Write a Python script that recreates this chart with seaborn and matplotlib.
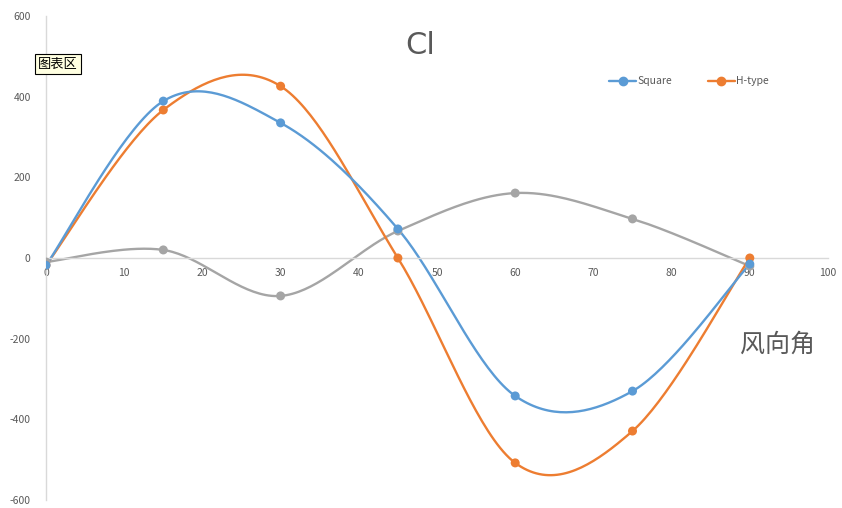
import numpy as np
import pandas as pd
import matplotlib
matplotlib.use("Agg")
import matplotlib.pyplot as plt
from matplotlib.lines import Line2D
import seaborn as sns

# Wind angle (degrees) and the coefficient values of each section type
angles = [0, 15, 30, 45, 60, 75, 90]
square = [-18, 389, 335, 72, -342, -330, -15]
h_type = [-18, 367, 426, 0, -508, -429, 0]
third = [-10, 20, -94, 67, 161, 97, -20]

series_names = ["Square", "H-type", "Series3"]
series_values = [square, h_type, third]
colors = ["#5B9BD5", "#ED7D31", "#A5A5A5"]

x_ticks = list(range(0, 101, 10))
y_ticks = list(range(-600, 601, 200))


def smooth(xs, ys, n=40):
    """Cubic Bezier smoothing through the points (Catmull-Rom style control points)."""
    p = np.column_stack([xs, ys]).astype(float)
    pts = np.vstack([p[0], p, p[-1]])
    out = []
    t = np.linspace(0, 1, n)[:, None]
    for i in range(1, len(pts) - 2):
        p0, p1, p2, p3 = pts[i - 1], pts[i], pts[i + 1], pts[i + 2]
        c1 = p1 + (p2 - p0) / 6
        c2 = p2 - (p3 - p1) / 6
        seg = ((1 - t) ** 3) * p1 + 3 * ((1 - t) ** 2) * t * c1 + 3 * (1 - t) * t ** 2 * c2 + t ** 3 * p2
        out.append(seg if i == 1 else seg[1:])
    return np.vstack(out)


curves = []
points = []
for name, vals in zip(series_names, series_values):
    c = smooth(angles, vals)
    curves.append(pd.DataFrame({"angle": c[:, 0], "value": c[:, 1], "series": name,
                                "order": np.arange(len(c))}))
    points.append(pd.DataFrame({"angle": angles, "value": vals, "series": name}))
curve_df = pd.concat(curves, ignore_index=True)
point_df = pd.concat(points, ignore_index=True)

sns.set_theme(style="white")
plt.rcParams["font.family"] = ["Noto Sans CJK SC", "DejaVu Sans"]

fig = plt.figure(figsize=(8.42, 5.08), dpi=100)
ax = fig.add_axes([46 / 842, 8 / 508, (828 - 46) / 842, (500 - 16) / 508])

palette = dict(zip(series_names, colors))
# draw in reverse so Square sits on top, like the default series order
for name in reversed(series_names):
    sub = curve_df[curve_df.series == name]
    ax.plot(sub.angle, sub.value, color=palette[name], lw=1.7, solid_capstyle="round", zorder=2)
sns.scatterplot(data=point_df.iloc[::-1], x="angle", y="value", hue="series", palette=palette,
                s=42, edgecolor="none", legend=False, ax=ax, zorder=3)

ax.set_xlim(0, 100)
ax.set_ylim(-600, 600)
ax.set_xticks(x_ticks)
ax.set_yticks(y_ticks)
ax.set_xticklabels([str(v) for v in x_ticks])
ax.set_yticklabels([str(v) for v in y_ticks])
ax.set_xlabel("")
ax.set_ylabel("")

for s in ["top", "right"]:
    ax.spines[s].set_visible(False)
ax.spines["bottom"].set_position(("data", 0))
ax.spines["bottom"].set_color("#D9D9D9")
ax.spines["left"].set_color("#D9D9D9")
ax.spines["bottom"].set_linewidth(1.0)
ax.spines["left"].set_linewidth(1.0)
ax.tick_params(axis="both", length=0, labelsize=7.5, labelcolor="#595959")
ax.tick_params(axis="x", pad=7)
ax.tick_params(axis="y", pad=11)

ax.set_title("Cl", fontsize=22, color="#595959", x=0.478, y=0.905, family="DejaVu Sans")

ax.text(0.935, 0.32, "风向角", transform=ax.transAxes, fontsize=18, color="#595959",
        ha="center", va="center")

handles = [Line2D([0], [0], color=colors[i], lw=1.7, marker="o", markersize=6)
           for i in range(2)]
leg = ax.legend(handles, series_names[:2], loc="upper right", bbox_to_anchor=(0.936, 0.895),
                ncol=2, frameon=False, fontsize=7.5, handlelength=2.6, columnspacing=3.4,
                handletextpad=0.1)
for t in leg.get_texts():
    t.set_color("#595959")

# hover label of the chart area
fig.text(38 / 842, 1 - 64 / 508, "图表区", fontsize=9.5, color="black", ha="left", va="center",
         bbox=dict(boxstyle="square,pad=0.25", fc="#FFFFE1", ec="black", lw=0.8))

fig.savefig("out.png", dpi=100)
